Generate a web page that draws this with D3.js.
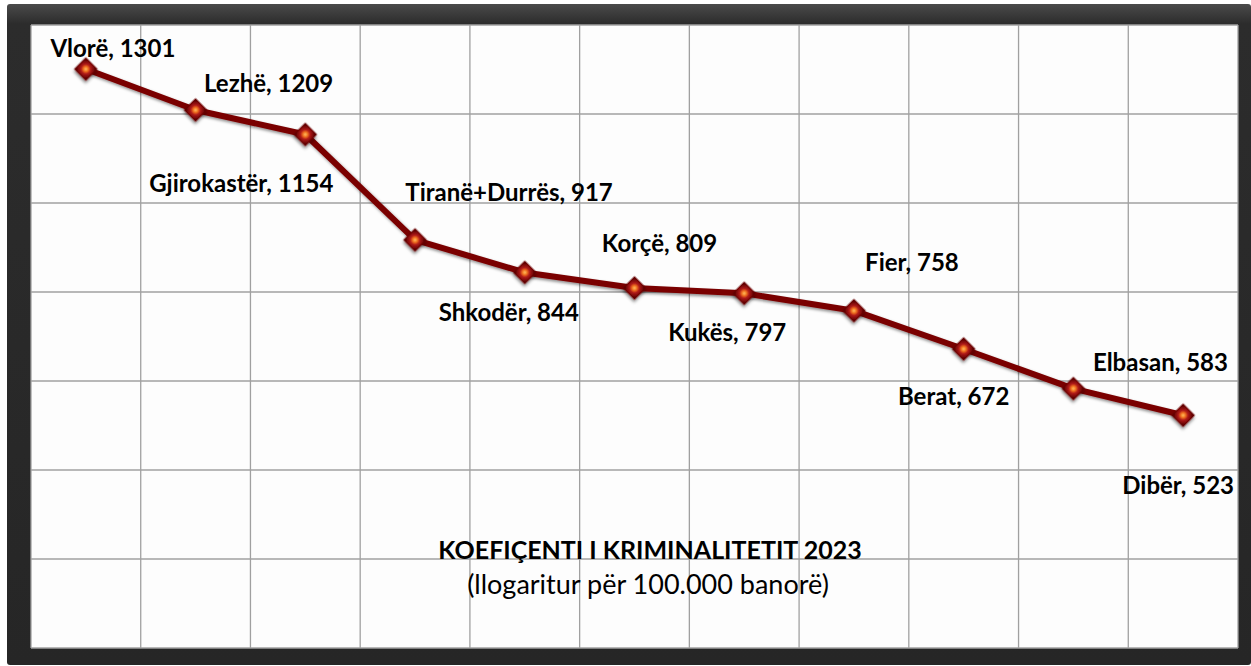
<!DOCTYPE html>
<html><head><meta charset="utf-8">
<script src="https://cdn.jsdelivr.net/npm/d3@7"></script>
<style>html,body{margin:0;padding:0;background:#fff;}svg{display:block;}</style>
</head><body><svg id="c" width="1251" height="666"></svg>
<script>
const categories = ["Vlorë","Lezhë","Gjirokastër","Tiranë+Durrës","Shkodër","Korçë","Kukës","Fier","Berat","Elbasan","Dibër"];
const values = [1301,1209,1154,917,844,809,797,758,672,583,523];
const yTicks = [0,200,400,600,800,1000,1200,1400];
const titleText = "KOEFIÇENTI I KRIMINALITETIT 2023";
const subtitleText = "(llogaritur për 100.000 banorë)";
// label placement relative to each point (layout)
const labelDx = [27,73,-64,94,-16,25,-17,58,-10,87,-5];
const labelDy = [-22,-27,48,-48,39,-45,38,-49,47,-27,69];

const svg = d3.select("#c");
const defs = svg.append("defs");
const fg = defs.append("linearGradient").attr("id","frameG").attr("x1",0).attr("y1",0).attr("x2",0).attr("y2",1);
fg.append("stop").attr("offset","0").attr("stop-color","#4a4a4a");
fg.append("stop").attr("offset","0.03").attr("stop-color","#2c2c2c");
fg.append("stop").attr("offset","1").attr("stop-color","#262626");
const rg = defs.append("radialGradient").attr("id","mk").attr("cx","50%").attr("cy","50%").attr("r","60%");
rg.append("stop").attr("offset","0").attr("stop-color","#ffc060");
rg.append("stop").attr("offset","0.25").attr("stop-color","#f07020");
rg.append("stop").attr("offset","0.5").attr("stop-color","#b01818");
rg.append("stop").attr("offset","1").attr("stop-color","#5a0000");
const sh = defs.append("filter").attr("id","sh").attr("x","-50%").attr("y","-50%").attr("width","200%").attr("height","200%");
sh.append("feDropShadow").attr("dx",1.5).attr("dy",2).attr("stdDeviation",1.5).attr("flood-color","#000").attr("flood-opacity",0.45);

// frame
svg.append("rect").attr("x",7).attr("y",4).attr("width",1244).attr("height",661).attr("rx",3).attr("fill","url(#frameG)");
const L=31,R=1238,T=25,B=648;
svg.append("rect").attr("x",L).attr("y",T).attr("width",R-L).attr("height",B-T).attr("fill","#fdfdfd");

const x = d3.scaleBand().domain(categories).range([L,R]).padding(0);
const y = d3.scaleLinear().domain([0,1400]).range([B,T]);

const grid = svg.append("g").attr("stroke","#a0a0a0").attr("stroke-width",1.3);
categories.forEach(c=>{ grid.append("line").attr("x1",x(c)).attr("x2",x(c)).attr("y1",T).attr("y2",B); });
grid.append("line").attr("x1",R).attr("x2",R).attr("y1",T).attr("y2",B);
yTicks.forEach(t=>{ grid.append("line").attr("x1",L).attr("x2",R).attr("y1",y(t)).attr("y2",y(t)); });

const cx = c => x(c)+x.bandwidth()/2;
const line = d3.line().x((d,i)=>cx(categories[i])).y(d=>y(d));
svg.append("path").datum(values).attr("d",line).attr("fill","none").attr("stroke","#7a0606").attr("stroke-width",6).attr("stroke-linejoin","round").attr("filter","url(#sh)");

const s = 16;
svg.append("g").selectAll("rect").data(values).join("rect")
  .attr("x",-s/2).attr("y",-s/2).attr("width",s).attr("height",s)
  .attr("transform",(d,i)=>`translate(${cx(categories[i])},${y(d)}) rotate(45)`)
  .attr("fill","url(#mk)").attr("stroke","#6a0000").attr("stroke-width",0.8).attr("filter","url(#sh)");

svg.append("g").selectAll("text").data(values).join("text")
  .attr("x",(d,i)=>cx(categories[i])+labelDx[i]).attr("y",(d,i)=>y(d)+labelDy[i])
  .attr("text-anchor","middle").attr("dominant-baseline","central")
  .attr("font-family","Lato, 'Open Sans', sans-serif").attr("font-weight","bold").attr("font-size",24).attr("fill","#000")
  .text((d,i)=>`${categories[i]}, ${d}`);

svg.append("text").attr("x",650).attr("y",549).attr("text-anchor","middle").attr("dominant-baseline","central")
  .attr("font-family","Lato, sans-serif").attr("font-weight","bold").attr("font-size",25).text(titleText);
svg.append("text").attr("x",648).attr("y",583).attr("text-anchor","middle").attr("dominant-baseline","central")
  .attr("font-family","Lato, sans-serif").attr("font-size",27).text(subtitleText);
</script></body></html>
